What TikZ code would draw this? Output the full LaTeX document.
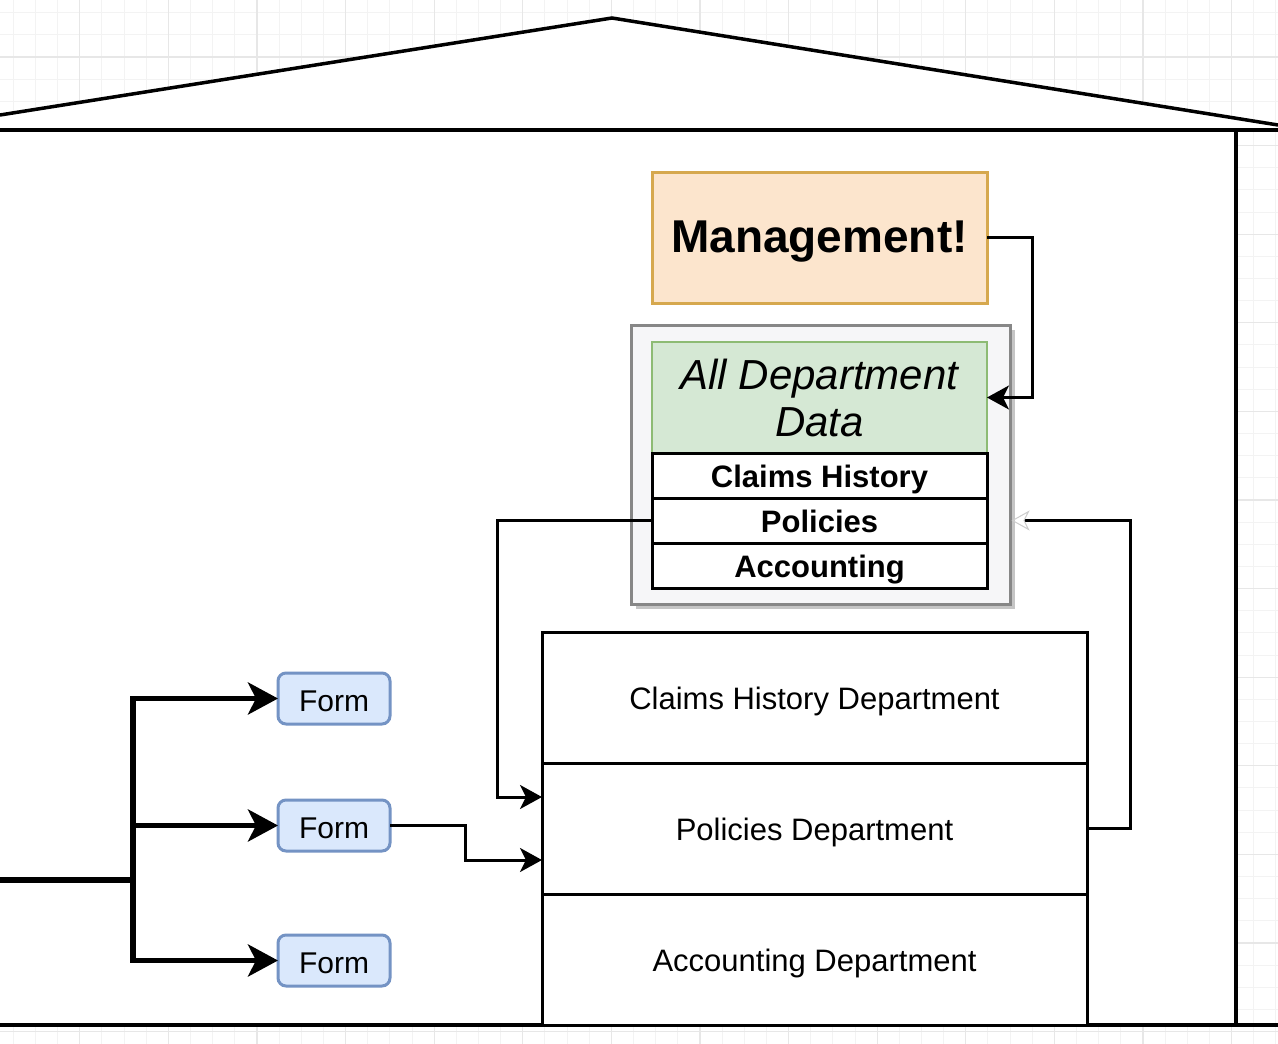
\documentclass[tikz,border=0pt]{standalone}
\usepackage{fontspec}
\setmainfont{Liberation Sans}
\usetikzlibrary{arrows.meta,positioning,shadows}
\definecolor{mgmtfill}{HTML}{FCE5CD}
\definecolor{mgmtline}{HTML}{D6A84E}
\definecolor{headfill}{HTML}{D5E8D4}
\definecolor{headline}{HTML}{8DBB74}
\definecolor{formfill}{HTML}{DAE8FC}
\definecolor{formline}{HTML}{7493C4}
\definecolor{framefill}{HTML}{F6F6F8}
\definecolor{frameline}{HTML}{878787}
\definecolor{gridminor}{HTML}{F3F3F3}
\definecolor{gridmajor}{HTML}{E7E7E7}
\tikzset{%
	wall/.style      = {line width=4pt}, % House outline
	roof/.style      = {line width=3.5pt, line join=miter},
	minorline/.style = {draw=gridminor, line width=1pt}, % Grid
	majorline/.style = {draw=gridmajor, line width=1.2pt},
}
\tikzset{%
	mgmt/.style     = {draw=mgmtline, fill=mgmtfill, line width=3pt, rectangle, minimum width=335pt, minimum height=131pt, outer sep=0pt, text height=29.4pt, text depth=0pt, font=\fontsize{46}{52}\selectfont\bfseries},
	dbframe/.style  = {draw=frameline, fill=framefill, line width=3pt, rectangle, minimum width=379pt, minimum height=279pt, drop shadow={shadow xshift=5pt, shadow yshift=-5pt, opacity=0.45}},
	dbhead/.style   = {draw=headline, fill=headfill, line width=2.5pt, rectangle, minimum width=335pt, minimum height=111pt, outer sep=0pt, align=center, font=\fontsize{42}{47}\selectfont\itshape},
	dbrow/.style    = {draw, fill=white, line width=3pt, rectangle, minimum width=335pt, minimum height=45pt, inner sep=0pt, outer sep=0pt, text height=24.8pt, text depth=0pt, font=\fontsize{31}{36}\selectfont\bfseries},
	dept/.style     = {draw, fill=white, line width=3pt, rectangle, minimum width=545pt, minimum height=131pt, outer sep=0pt, text height=24.8pt, text depth=0pt, font=\fontsize{31}{36}\selectfont},
	form/.style     = {draw=formline, fill=formfill, line width=3pt, rounded corners=8pt, minimum width=112pt, minimum height=51pt, outer sep=0pt, text height=25.8pt, text depth=0pt, font=\fontsize{30}{35}\selectfont},
	waypoint/.style = {coordinate},
	arrow/.style    = {line width=3pt, -{Stealth[length=22pt, width=24pt, inset=6pt]}},
	faintarrow/.style = {line width=3pt, -{Stealth[open, length=18pt, width=20pt, inset=5pt, line width=1pt, color=gray!40]}},
	bigarrow/.style = {line width=5.5pt, -{Stealth[length=30pt, width=32pt, inset=8pt]}},
}
\begin{document}
\begin{tikzpicture}[x=1pt, y=-1pt, node distance=0pt]
	\useasboundingbox (0,0) rectangle (1278,1044);
	% grid behind the house
	\foreach \i in {0,...,57} {\draw[minorline] ({13.35+22.15*\i},0) -- ++(0,1044);}
	\foreach \j in {0,...,47} {\draw[minorline] (0,{12.7+22.15*\j}) -- ++(1278,0);}
	\foreach \i in {0,...,13} {\draw[majorline] ({79.8+88.6*\i},0) -- ++(0,1044);}
	\foreach \j in {0,...,11} {\draw[majorline] (0,{57+88.6*\j}) -- ++(1278,0);}
	\fill[white] (0,115) -- (612,18) -- (1278,125) -- (1278,130) -- (1236,130) -- (1236,1025) -- (0,1025) -- cycle;
	
	% house
	\draw[roof] (0,115) -- (612,18) -- (1278,125);
	\draw[wall] (0,130) -- (1278,130);
	\draw[wall] (1236,130) -- (1236,1025);
	\draw[wall] (0,1025) -- (1278,1025);
	
	\node[mgmt] (mgmt) at (819.5,237.5) {Management!};
	\node[dbframe] (db) at (820.5,464.5) {};
	\node[dbhead] (head) at (819.5,397.5) {All Department\\Data};
	\node[dbrow,below=of head] (rowclaims) {Claims History};
	\node[dbrow,below=of rowclaims] (rowpol) {Policies};
	\node[dbrow,below=of rowpol] (rowacc) {Accounting};
	
	\node[dept] (claimsdept) at (814.5,697.5) {Claims History Department};
	\node[dept,below=of claimsdept] (poldept) {Policies Department};
	\node[dept,below=of poldept] (accdept) {Accounting Department};
	
	\node[form] (form1) at (334,698.5) {Form};
	\node[form] (form2) at (334,825.5) {Form};
	\node[form] (form3) at (334,960.5) {Form};
	
	\node[waypoint] (entry) at (0,880) {};
	\node[waypoint] (split) at (133,880) {};
	\node[waypoint] (wp1) at (465,860) {};
	\node[waypoint] (wp2) at (497,797) {};
	\node[waypoint] (wp3) at (1130,520.5) {};
	\node[waypoint] (wp4) at (1032,397.5) {};
	
	\draw[line width=5.5pt] (entry) -- (split);
	\draw[bigarrow] (split) |- (form1);
	\draw[bigarrow] (split) |- (form2);
	\draw[bigarrow] (split) |- (form3);
	\draw[arrow] (form2) -| (wp1) -- (wp1 -| poldept.west);
	\draw[arrow] (rowpol) -| (wp2) -- (wp2 -| poldept.west);
	\draw[faintarrow] (poldept) -| (wp3) -- (wp3 -| db.east);
	\draw[arrow] (mgmt) -| (wp4) -- (head);
\end{tikzpicture}
\end{document}
